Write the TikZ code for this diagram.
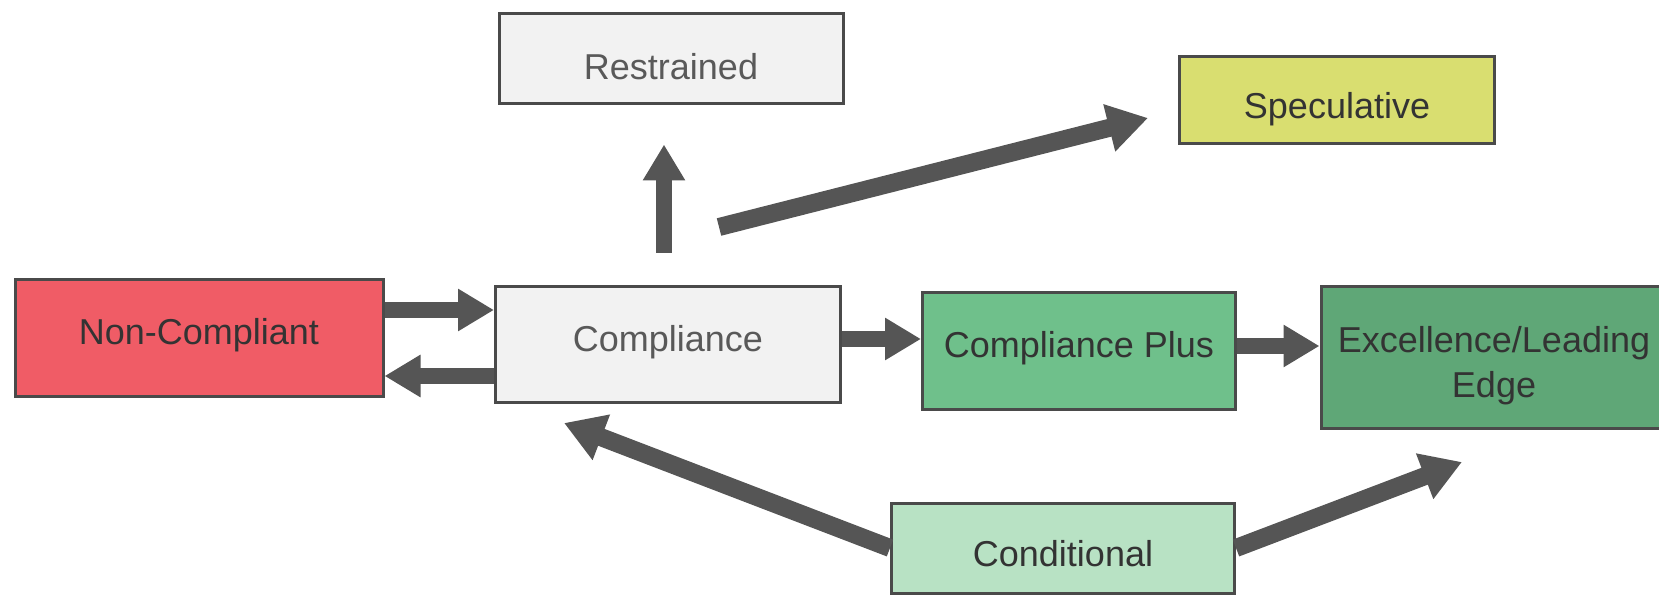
\documentclass[tikz,border=0pt]{standalone}
\usepackage{fontspec}
\setmainfont{Liberation Sans}
\usetikzlibrary{arrows.meta}
\definecolor{ncred}{HTML}{F05C66}
\definecolor{lgray}{HTML}{F2F2F2}
\definecolor{specy}{HTML}{D9DE70}
\definecolor{cplus}{HTML}{6FC08B}
\definecolor{excel}{HTML}{5FA777}
\definecolor{condg}{HTML}{B8E2C4}
\definecolor{bord}{HTML}{4A4A4A}
\definecolor{arr}{HTML}{555555}
\newcommand{\mvtxt}[2]{\raisebox{#1}[\height][\depth]{#2}}
\tikzset{
  box/.style={draw=bord, line width=3pt, inner sep=0pt,
    font=\fontsize{36}{45}\selectfont, text=black!80},
  fat/.style={draw=arr, line width=16pt,
    -{Triangle[length=36pt,width=40pt]}},
  fatter/.style={draw=arr, line width=18pt,
    -{Triangle[length=40pt,width=46pt]}}
}
\begin{document}
\begin{tikzpicture}[x=1pt,y=-1pt]
\useasboundingbox (0,0) rectangle (1659,596);
\node[box, fill=lgray, text=black!65, minimum width=344pt, minimum height=90pt] (r) at (671,59) {\mvtxt{-8pt}{Restrained}};
\node[box, fill=specy, minimum width=315pt, minimum height=87pt] (s) at (1337,100) {\mvtxt{-9pt}{Speculative}};
\node[box, fill=ncred, minimum width=368pt, minimum height=117pt] (nc) at (199,338) {\mvtxt{3pt}{Non-Compliant}};
\node[box, fill=lgray, text=black!65, minimum width=345pt, minimum height=116pt] (c) at (668,344) {\mvtxt{2pt}{Compliance}};
\node[box, fill=cplus, minimum width=313pt, minimum height=117pt] (cp) at (1079,351) {\mvtxt{3pt}{Compliance Plus}};
\node[box, fill=excel, minimum width=346pt, minimum height=142pt] (ex) at (1494,357) {\mvtxt{-9pt}{\begin{tabular}{@{}c@{}}Excellence/Leading\\Edge\end{tabular}}};
\node[box, fill=condg, minimum width=343pt, minimum height=90pt] (cd) at (1063,548) {\mvtxt{-6pt}{Conditional}};

\coordinate (s1) at (719,227);
\coordinate (s2) at (1148,118);
\coordinate (c1) at (564,423);
\coordinate (e1) at (1462,462);

\draw[fat] ([yshift=28pt]nc.east) -- ([yshift=28pt]nc.east -| c.west);
\draw[fat] ([yshift=-38pt]nc.east -| c.west) -- ([yshift=-38pt]nc.east);
\draw[fat] ([yshift=5pt]c.east) -- ([yshift=5pt]c.east -| cp.west);
\draw[fat] ([yshift=5pt]cp.east) -- ([yshift=5pt]cp.east -| ex.west);
\draw[fat, shorten <=32pt, shorten >=39pt] ([xshift=-4pt]c.north) -- ([xshift=-4pt]c.north |- r.south);
\draw[fatter] (s1) -- (s2);
\draw[fatter] (cd.west) -- (c1);
\draw[fatter] (cd.east) -- (e1);
\end{tikzpicture}
\end{document}
